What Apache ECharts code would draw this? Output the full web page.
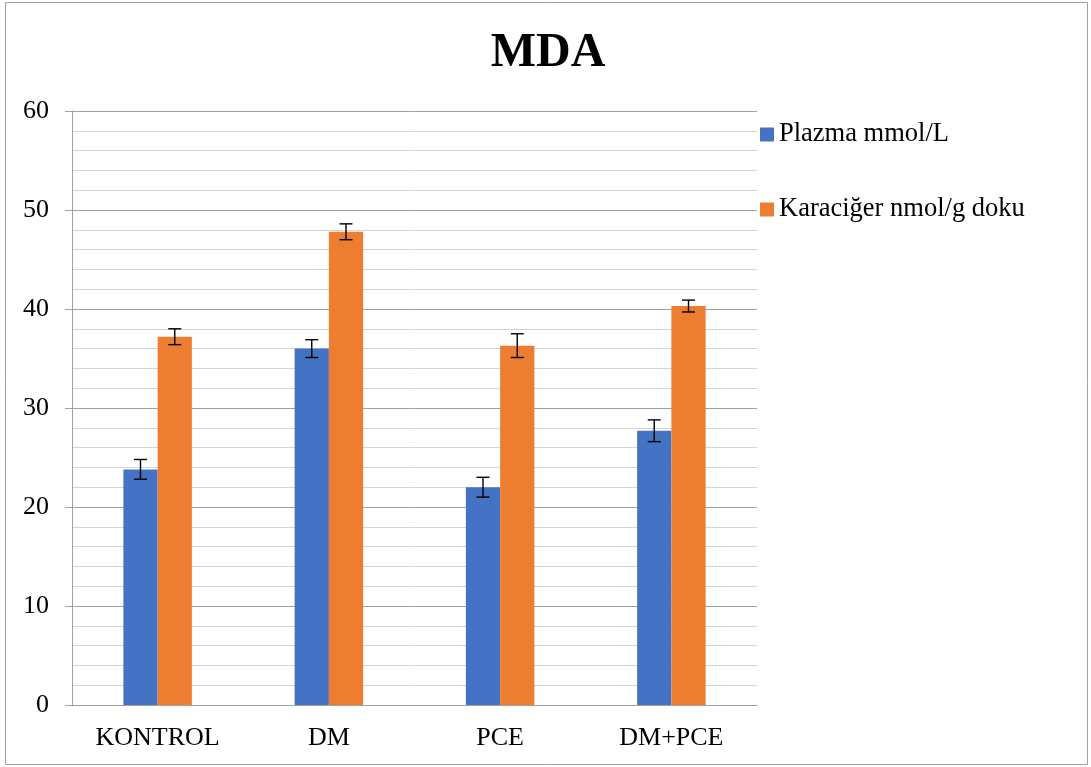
<!DOCTYPE html>
<html><head><meta charset="utf-8">
<script src="https://cdn.jsdelivr.net/npm/echarts@6/dist/echarts.min.js"></script>
<style>html,body{margin:0;padding:0;background:#fff}#c{width:1091px;height:767px}</style>
</head><body><div id="c"></div>
<script>
const categories = ['KONTROL', 'DM', 'PCE', 'DM+PCE'];
const plazma = [23.8, 36.0, 22.0, 27.7];
const plazmaErr = [1.0, 0.9, 1.0, 1.1];
const karaciger = [37.2, 47.8, 36.3, 40.3];
const karacigerErr = [0.8, 0.8, 1.2, 0.6];
const seriesNames = ['Plazma mmol/L', 'Karaciğer nmol/g doku'];

const font = '"Liberation Serif", "Times New Roman", serif';
const chart = echarts.init(document.getElementById('c'));

function errSeries(vals, errs, side) {
  return {
    type: 'custom',
    z: 10,
    silent: true,
    data: vals.map((v, i) => [i, v, errs[i]]),
    renderItem: function (params, api) {
      const i = api.value(0), v = api.value(1), e = api.value(2);
      const band = api.size([1, 0])[0];
      const off = side * band * 0.1;
      const top = api.coord([i, v + e]);
      const bot = api.coord([i, v - e]);
      const x = top[0] + off;
      const hw = 6.5;
      const st = { stroke: '#000', lineWidth: 1.4 };
      return {
        type: 'group',
        children: [
          { type: 'line', shape: { x1: x, y1: top[1], x2: x, y2: bot[1] }, style: st },
          { type: 'line', shape: { x1: x - hw, y1: top[1], x2: x + hw, y2: top[1] }, style: st },
          { type: 'line', shape: { x1: x - hw, y1: bot[1], x2: x + hw, y2: bot[1] }, style: st }
        ]
      };
    }
  };
}

chart.setOption({
  animation: false,
  title: {
    text: 'MDA', left: 543, top: 25, textAlign: 'center',
    textStyle: { fontFamily: font, fontSize: 48, fontWeight: 'bold', color: '#000' }
  },
  legend: {
    orient: 'vertical', left: 755, top: 116, itemWidth: 14, itemHeight: 14, itemGap: 48,
    icon: 'rect',
    data: seriesNames,
    textStyle: { fontFamily: font, fontSize: 26.5, color: '#000', padding: [0, 0, 0, 0] }
  },
  graphic: [{
    type: 'rect', shape: { x: 5.5, y: 2.5, width: 1082, height: 762 },
    style: { fill: 'none', stroke: '#a0a0a0', lineWidth: 1 }, silent: true, z: -1
  }],
  grid: { left: 72, right: 334, top: 111, bottom: 62 },
  xAxis: {
    type: 'category', data: categories,
    axisLine: { lineStyle: { color: '#a0a0a0' } },
    axisTick: { show: false },
    axisLabel: { fontFamily: font, fontSize: 26, color: '#000', margin: 20 }
  },
  yAxis: {
    type: 'value', min: 0, max: 60, interval: 10,
    axisLine: { show: true, lineStyle: { color: '#a0a0a0' } },
    axisTick: { show: true, length: 7, lineStyle: { color: '#a0a0a0' } },
    axisLabel: { fontFamily: font, fontSize: 26, color: '#000', margin: 23 },
    splitLine: { lineStyle: { color: '#a0a0a0' } },
    minorTick: { show: false, splitNumber: 5 },
    minorSplitLine: { show: true, lineStyle: { color: '#d4d4d4' } }
  },
  series: [
    { name: seriesNames[0], type: 'bar', data: plazma, barWidth: '20%', barGap: '0%',
      itemStyle: { color: '#4472C4' } },
    { name: seriesNames[1], type: 'bar', data: karaciger, barWidth: '20%', barGap: '0%',
      itemStyle: { color: '#ED7D31' } },
    errSeries(plazma, plazmaErr, -1),
    errSeries(karaciger, karacigerErr, 1)
  ]
});
</script></body></html>
